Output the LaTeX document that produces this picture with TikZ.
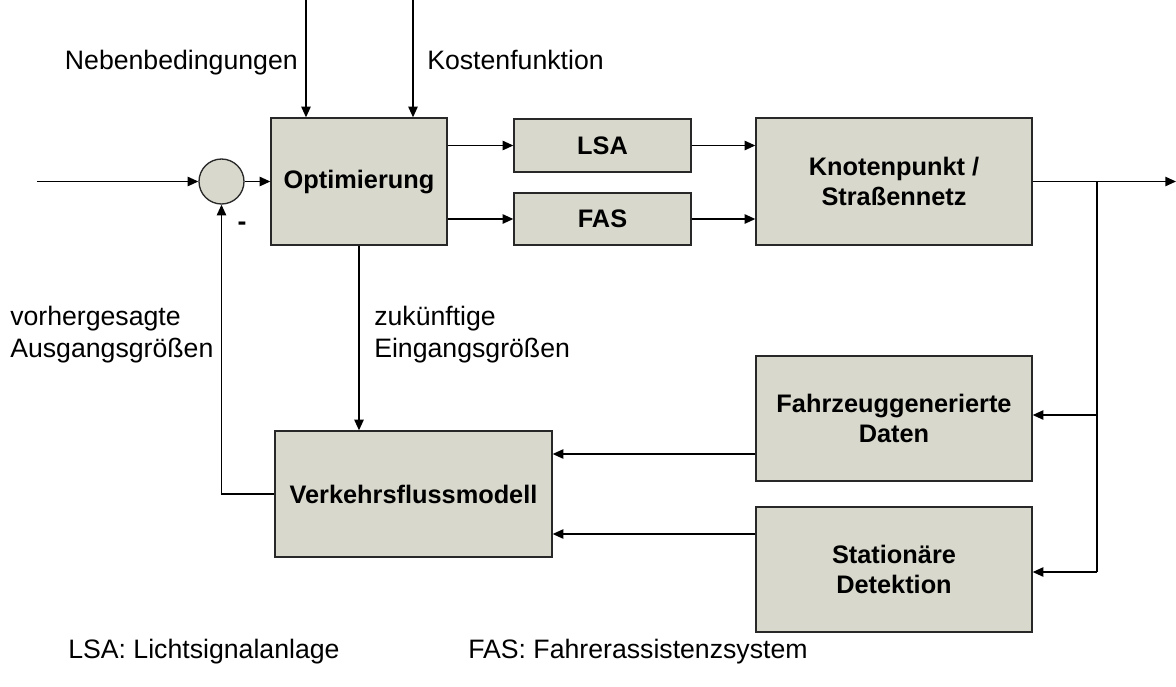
\documentclass[tikz,border=0pt]{standalone}
\usepackage{fontspec}
\setmainfont{Liberation Sans}
\usetikzlibrary{arrows.meta,calc}
\definecolor{boxfill}{RGB}{216,216,204}
\definecolor{boxline}{RGB}{40,40,40}
\begin{document}
\begin{tikzpicture}[x=0.75pt,y=-0.75pt,
  blk/.style={draw=boxline,line width=1pt,fill=boxfill,inner sep=0pt,
    font=\fontsize{19}{23}\selectfont\bfseries,align=center},
  lbl/.style={inner sep=0pt,font=\fontsize{20}{24}\selectfont,align=left},
  arr/.style={line width=1.1pt,-{Triangle[length=8pt,width=7pt]}},
  ln/.style={line width=1.1pt}]
\useasboundingbox (0,0) rectangle (1176,686);

% blocks
\node[blk,minimum width=132pt,minimum height=95.25pt] (opt) at (359,181.5) {Optimierung};
\node[blk,minimum width=132.75pt,minimum height=39.75pt] (lsa) at (602.5,145.5) {LSA};
\node[blk,minimum width=132.75pt,minimum height=39pt] (fas) at (602.5,219) {FAS};
\node[blk,minimum width=207pt,minimum height=95.25pt] (kn) at (894,181.5) {Knotenpunkt /\\Straßennetz};
\node[blk,minimum width=207pt,minimum height=93.75pt] (fz) at (894,418.5) {Fahrzeuggenerierte\\Daten};
\node[blk,minimum width=207pt,minimum height=93.75pt] (st) at (894,569.5) {Stationäre\\Detektion};
\node[blk,minimum width=207.75pt,minimum height=94.5pt] (vm) at (413.5,494) {Verkehrsflussmodell};
\node[draw=boxline,line width=1pt,fill=boxfill,circle,minimum size=33.75pt,inner sep=0pt] (sum) at (221.5,181.5) {};

% free ends
\coordinate (in) at (37,181.5);
\coordinate (nb) at (306,0);
\coordinate (kf) at (413,0);
\coordinate (out) at (1176,181.5);
\coordinate (br) at (1097,181.5);

% connectors
\draw[arr] (in) -- (sum.west);
\draw[arr] (sum.east) -- (sum.east -| opt.west);
\draw[arr] (nb) -- (nb |- opt.north);
\draw[arr] (kf) -- (kf |- opt.north);
\draw[arr] (opt.east |- lsa.west) -- (lsa.west);
\draw[arr] (opt.east |- fas.west) -- (fas.west);
\draw[arr] (lsa.east) -- (lsa.east -| kn.west);
\draw[arr] (fas.east) -- (fas.east -| kn.west);
\draw[arr] (kn.east) -- (out);
\draw[ln] (br) -- (br |- 0,572);
\draw[arr] (br |- 0,415) -- (fz.east |- 0,415);
\draw[arr] (br |- 0,572) -- (st.east |- 0,572);
\draw[arr] (fz.west |- 0,454) -- (vm.east |- 0,454);
\draw[arr] (st.west |- 0,534) -- (vm.east |- 0,534);
\draw[arr] (opt.south) -- (opt.south |- vm.north);
\draw[arr] (vm.west) -| (sum.south);

% labels
\node[lbl,anchor=base east] (lnb) at (298,69) {Nebenbedingungen};
\node[lbl,anchor=base west] (lkf) at (427,69) {Kostenfunktion};
\node[lbl,anchor=west] (lvh) at (10,335) {vorhergesagte\\Ausgangsgrößen};
\node[lbl,anchor=west] (lzk) at (374,335) {zukünftige\\Eingangsgrößen};
\node[lbl,anchor=center,font=\fontsize{20}{24}\selectfont\bfseries] (lminus) at (242,226) {-};
\node[lbl,anchor=base west] (llsa) at (68,658) {LSA: Lichtsignalanlage};
\node[lbl,anchor=base west] (lfas) at (468,658) {FAS: Fahrerassistenzsystem};
\end{tikzpicture}
\end{document}
